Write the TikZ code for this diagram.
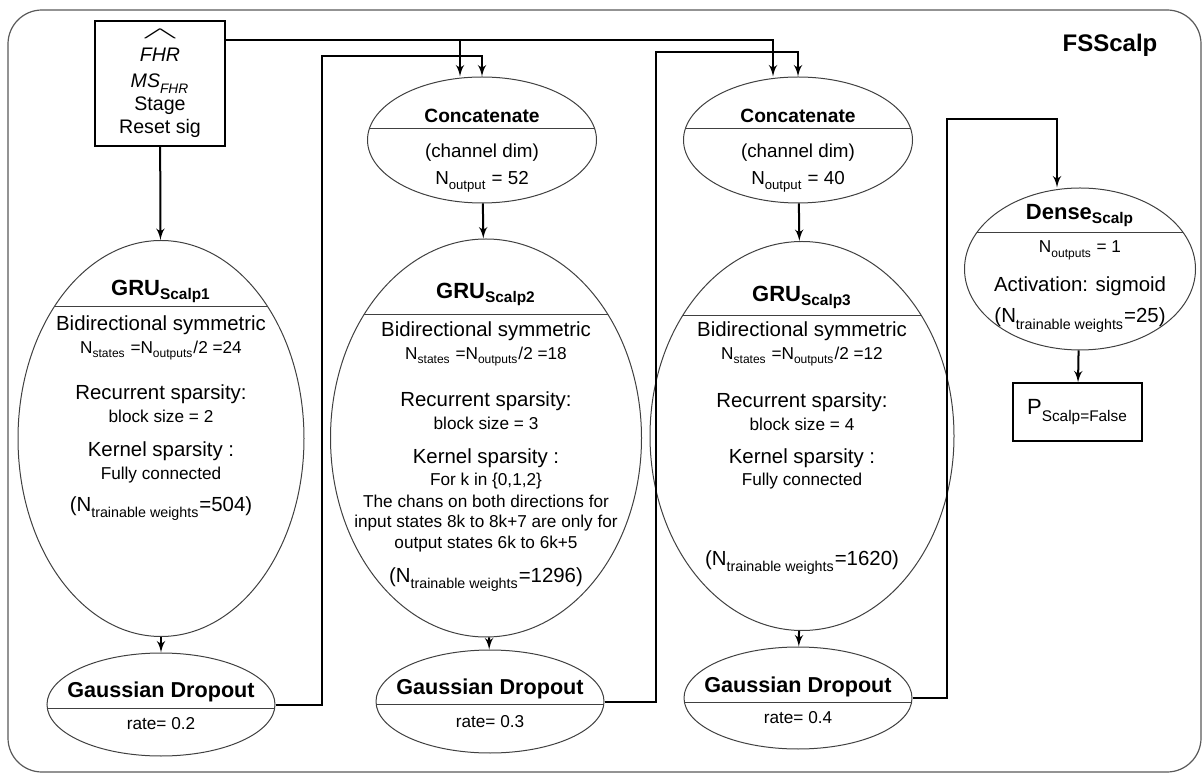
\documentclass[tikz,border=0pt]{standalone}
\usepackage{fontspec}
\setmainfont{Liberation Sans}
\usepackage{amsmath}
\usetikzlibrary{shapes,arrows}

\newcommand{\fsmall}{\fontsize{8.6}{10.5}\selectfont}
\newcommand{\lowsub}[1]{\raisebox{-0.15em}{\textsubscript{#1}}}
\newcommand{\widehatmark}{\resizebox{19pt}{4.5pt}{$\wedge$}}

\tikzstyle{oval} = [ellipse, draw=black!75, line width=0.5pt, inner sep=0pt]
\tikzstyle{block} = [rectangle, draw, line width=0.6pt, inner sep=0pt, align=center]
\tikzstyle{line} = [draw, -{latex'}, line width=1pt]
\tikzstyle{head} = [inner sep=0pt, anchor=base, font=\fontsize{11}{13}\selectfont\bfseries]
\tikzstyle{body} = [inner sep=0pt, anchor=north, align=center, font=\fontsize{10.2}{11.5}\selectfont]
\tikzset{sepline/.style={path picture={\draw[black!75, line width=0.5pt]
  ([yshift=-#1]path picture bounding box.north west) -- ([yshift=-#1]path picture bounding box.north east);}}}

\begin{document}
\begin{tikzpicture}[x=0.5pt, y=-0.5pt]
\useasboundingbox (0,0) rectangle (1204,774);
\draw[draw=black!65, line width=0.6pt, rounded corners=17pt] (8,10) rectangle (1201,772);
\node[font=\fontsize{12}{14}\selectfont\bfseries] (name) at (1110,45) {FSScalp};

% Place nodes
	\node [block, minimum width=65pt, minimum height=62.5pt, font=\fontsize{9.8}{11.5}\selectfont] (in) at (160,83.5)
		{\widehatmark\\ \textit{FHR}\\[1.5pt] \textit{MS}\lowsub{\textit{FHR}}\\ Stage\\ Reset sig};

	\node [oval, minimum width=143pt, minimum height=198pt, sepline=33pt] (gru1) at (161,438.5) {};
	\node [head] (gru1h) at (161,296) {GRU\textsubscript{Scalp1}};
	\node [body] (gru1b) at (161,315) {Bidirectional symmetric\\
		{\fsmall N\lowsub{states} =N\lowsub{outputs}/2 =24}\\[11.75pt]
		Recurrent sparsity:\\
		{\fsmall block size = 2}\\[5.25pt]
		Kernel sparsity :\\
		{\fsmall Fully connected}\\[4.5pt]
		(N\lowsub{trainable weights}=504)};

	\node [oval, minimum width=114.5pt, minimum height=63pt, sepline=26pt] (cat1) at (482,140) {};
	\node [head, font=\fontsize{9.6}{11}\selectfont\bfseries] (cat1h) at (482,123) {Concatenate};
	\node [body, font=\fontsize{9.4}{11.5}\selectfont] (cat1b) at (482,143) {(channel dim)\\[2pt] N\lowsub{output} = 52};

	\node [oval, minimum width=155.5pt, minimum height=199pt, sepline=38pt] (gru2) at (486,438) {};
	\node [head] (gru2h) at (486,299) {GRU\textsubscript{Scalp2}};
	\node [body] (gru2b) at (486,321) {Bidirectional symmetric\\
		{\fsmall N\lowsub{states} =N\lowsub{outputs}/2 =18}\\[12pt]
		Recurrent sparsity:\\
		{\fsmall block size = 3}\\[5.5pt]
		Kernel sparsity :\\[-0.5pt]
		{\fsmall For k in \{0,1,2\}}\\[-0.5pt]
		{\fsmall The chans on both directions for}\\[-1.25pt]
		{\fsmall input states 8k to 8k+7 are only for}\\[-1.25pt]
		{\fsmall output states 6k to 6k+5}\\[5.5pt]
		(N\lowsub{trainable weights}=1296)};

	\node [oval, minimum width=114.5pt, minimum height=63pt, sepline=26pt] (cat2) at (798,140) {};
	\node [head, font=\fontsize{9.6}{11}\selectfont\bfseries] (cat2h) at (798,123) {Concatenate};
	\node [body, font=\fontsize{9.4}{11.5}\selectfont] (cat2b) at (798,143) {(channel dim)\\[2pt] N\lowsub{output} = 40};

	\node [oval, minimum width=152pt, minimum height=194.5pt, sepline=37pt] (gru3) at (802,436) {};
	\node [head] (gru3h) at (802,302) {GRU\textsubscript{Scalp3}};
	\node [body] (gru3b) at (802,321) {Bidirectional symmetric\\
		{\fsmall N\lowsub{states} =N\lowsub{outputs}/2 =12}\\[12.5pt]
		Recurrent sparsity:\\
		{\fsmall block size = 4}\\[5pt]
		Kernel sparsity :\\[-0.5pt]
		{\fsmall Fully connected}\\[28.5pt]
		(N\lowsub{trainable weights}=1620)};

	\node [oval, minimum width=114pt, minimum height=51.5pt, sepline=27.5pt] (gd1) at (161,704.5) {};
	\node [head, font=\fontsize{10.8}{12}\selectfont\bfseries] (gd1h) at (161,697) {Gaussian Dropout};
	\node [head, font=\fsmall] (gd1r) at (161,729) {rate= 0.2};

	\node [oval, minimum width=114pt, minimum height=51.5pt, sepline=27pt] (gd2) at (490,701.5) {};
	\node [head, font=\fontsize{10.8}{12}\selectfont\bfseries] (gd2h) at (490,694) {Gaussian Dropout};
	\node [head, font=\fsmall] (gd2r) at (490,727) {rate= 0.3};

	\node [oval, minimum width=114pt, minimum height=51pt, sepline=27.5pt] (gd3) at (798,698) {};
	\node [head, font=\fontsize{10.8}{12}\selectfont\bfseries] (gd3h) at (798,692) {Gaussian Dropout};
	\node [head, font=\fsmall] (gd3r) at (798,723) {rate= 0.4};

	\node [oval, minimum width=115.5pt, minimum height=81pt, sepline=22.5pt] (dense) at (1080,269) {};
	\node [head] (denseh) at (1080,220) {Dense\textsubscript{Scalp}};
	\node [body] (denseb) at (1080,240.5) {{\fsmall N\lowsub{outputs} = 1}\\[8pt]
		Activation: sigmoid\\[4pt]
		(N\lowsub{trainable weights}=25)};

	\node [block, minimum width=64.5pt, minimum height=29pt, font=\fontsize{11}{13}\selectfont] (out) at (1077.5,412) {P\lowsub{Scalp=False}};

% Draw edges
	\coordinate (bus) at (0,40);
	\path [line] (in.east |- bus) -| ([xshift=-11pt]cat1.north);
	\path [line] (in.east |- bus) -| ([xshift=-12.5pt]cat2.north);
	\path [line] (in) -- (gru1);
	\path [line] (gru1) -- (gd1);
	\path [line] (gd1.east) -- ++(23pt,0) |- ([yshift=10pt]cat1.north) -- (cat1.north);
	\path [line] (cat1) -- (gru2);
	\path [line] (gru2) -- (gd2);
	\path [line] (gd2.east) -- ++(25.5pt,0) |- ([yshift=12pt]cat2.north) -- (cat2.north);
	\path [line] (cat2) -- (gru3);
	\path [line] (gru3) -- (gd3);
	\path [line] (gd3.east) -- ++(17pt,0) |- ([xshift=-11.5pt,yshift=34.25pt]dense.north) -- ([xshift=-11.5pt]dense.north);
	\path [line] (dense) -- (out);

\end{tikzpicture}
\end{document}
